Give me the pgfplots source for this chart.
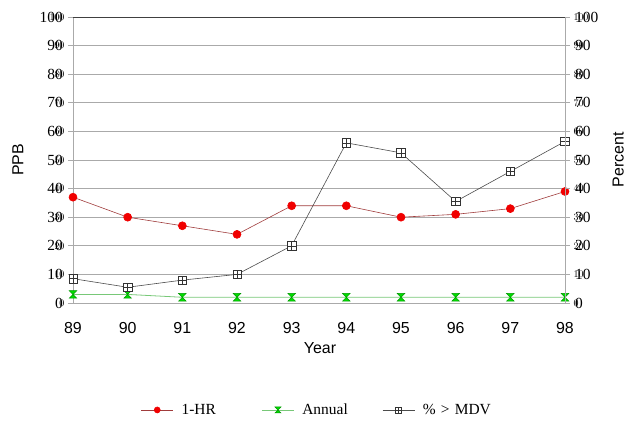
\documentclass[border=0pt]{standalone}
\usepackage{fontspec}
\setmainfont{Liberation Serif}
\setsansfont{Liberation Sans}
\newfontfamily\tnr{Liberation Serif}
\newfontfamily\arl{Liberation Sans}
\usepackage{pgfplots}
\pgfplotsset{compat=1.18}

\definecolor{hrline}{RGB}{160,60,60}
\definecolor{hrmark}{RGB}{240,0,0}
\definecolor{annline}{RGB}{120,200,120}
\definecolor{annmark}{RGB}{0,220,0}
\definecolor{gridc}{RGB}{170,170,170}

\pgfdeclareplotmark{hourglass}{%
 \pgfpathmoveto{\pgfqpoint{-\pgfplotmarksize}{\pgfplotmarksize}}%
 \pgfpathlineto{\pgfqpoint{\pgfplotmarksize}{\pgfplotmarksize}}%
 \pgfpathlineto{\pgfqpoint{-\pgfplotmarksize}{-\pgfplotmarksize}}%
 \pgfpathlineto{\pgfqpoint{\pgfplotmarksize}{-\pgfplotmarksize}}%
 \pgfpathclose
 \pgfusepathqfillstroke}
\pgfdeclareplotmark{squareplus}{%
 \pgfpathrectangle{\pgfqpoint{-\pgfplotmarksize}{-\pgfplotmarksize}}{\pgfqpoint{2\pgfplotmarksize}{2\pgfplotmarksize}}%
 \pgfusepathqfillstroke
 \pgfpathmoveto{\pgfqpoint{-\pgfplotmarksize}{0pt}}\pgfpathlineto{\pgfqpoint{\pgfplotmarksize}{0pt}}%
 \pgfpathmoveto{\pgfqpoint{0pt}{-\pgfplotmarksize}}\pgfpathlineto{\pgfqpoint{0pt}{\pgfplotmarksize}}%
 \pgfusepathqstroke}

\begin{document}
\begin{tikzpicture}
\path[use as bounding box] (-73bp,-123bp) rectangle (567bp,303bp);
\begin{axis}[
  scale only axis, width=492bp, height=286bp,
  xmin=89, xmax=98, ymin=0, ymax=100,
  xtick={89,90,91,92,93,94,95,96,97,98},
  xticklabels={89,90,91,92,93,94,95,96,97,98},
  ytick={0,10,20,30,40,50,60,70,80,90,100},
  yticklabel={},
  axis y line*=left, axis x line*=bottom,
  axis line style={gridc, line width=0.8pt},
  ymajorgrids, grid style={gridc, line width=0.8pt},
  tick align=outside, major tick length=5bp,
  ytick style={gridc, line width=0.8pt},
  xtick style={draw=none},
  xticklabel style={font=\arl\fontsize{16}{16}\selectfont, yshift=-11bp},
  ylabel={PPB}, xlabel={Year},
  every axis y label/.style={at={(axis description cs:-0.112,0.5)}, rotate=90, anchor=center, font=\arl\fontsize{16}{16}\selectfont},
  every axis x label/.style={at={(axis description cs:0.502,-0.157)}, anchor=center, font=\arl\fontsize{16}{16}\selectfont},
  legend style={at={(axis description cs:0.506,-0.374)}, anchor=center, draw=none, fill=none, legend columns=3,
    font=\tnr\fontsize{15.5}{15.5}\selectfont,
    nodes={text width=72bp, align=left, inner xsep=8bp},
    /tikz/every even column/.append style={column sep=0bp}},
  legend image code/.code={\draw[mark repeat=2, mark phase=2] plot coordinates {(0bp,0bp) (16bp,0bp) (32bp,0bp)};},
  clip=false,
]
\draw[black!75, line width=0.8pt] (axis cs:89,100) -- (axis cs:98,100);
\pgfplotsinvokeforeach{0,10,20,30,40,50,60,70,80,90,100}{%
  \node[anchor=east, inner sep=0pt, xshift=-10bp, font=\tnr\fontsize{15.5}{15.5}\selectfont] at (axis cs:89,#1) {#1};
  \node[anchor=west, inner sep=0pt, xshift=10bp, font=\tnr\fontsize{15.5}{15.5}\selectfont] at (axis cs:98,#1) {#1};
}
\addplot[hrline, line width=0.6pt, mark=*, mark size=4bp, mark options={fill=hrmark, draw=hrmark},
  legend image post style={mark size=3bp}]
  coordinates {(89,37) (90,30) (91,27) (92,24) (93,34) (94,34) (95,30) (96,31) (97,33) (98,39)};
\addlegendentry{1-HR}
\addplot[annline, line width=0.8pt, mark=hourglass, mark size=3.8bp, mark options={fill=annmark, draw=green!60!black, line width=0.5pt},
  legend image post style={mark size=3bp}]
  coordinates {(89,3) (90,3) (91,2) (92,2) (93,2) (94,2) (95,2) (96,2) (97,2) (98,2)};
\addlegendentry{Annual}
\addplot[black!70, line width=0.6pt, mark=squareplus, mark size=4.2bp, mark options={fill=white, draw=black!80, line width=0.6pt},
  legend image post style={mark size=3bp}]
  coordinates {(89,8.5) (90,5.5) (91,8) (92,10) (93,20) (94,56) (95,52.5) (96,35.5) (97,46) (98,56.5)};
\addlegendentry{\% > MDV}
\end{axis}
\begin{axis}[
  scale only axis, width=492bp, height=286bp,
  xmin=89, xmax=98, ymin=0, ymax=100,
  ytick={0,10,20,30,40,50,60,70,80,90,100},
  yticklabel={},
  axis y line*=right, axis x line=none,
  axis line style={gridc, line width=0.8pt},
  tick align=outside, major tick length=5bp,
  ytick style={gridc, line width=0.8pt},
  ylabel={Percent},
  every axis y label/.style={at={(axis description cs:1.108,0.5)}, rotate=90, anchor=center, font=\arl\fontsize{16}{16}\selectfont},
]
\end{axis}
\end{tikzpicture}
\end{document}
